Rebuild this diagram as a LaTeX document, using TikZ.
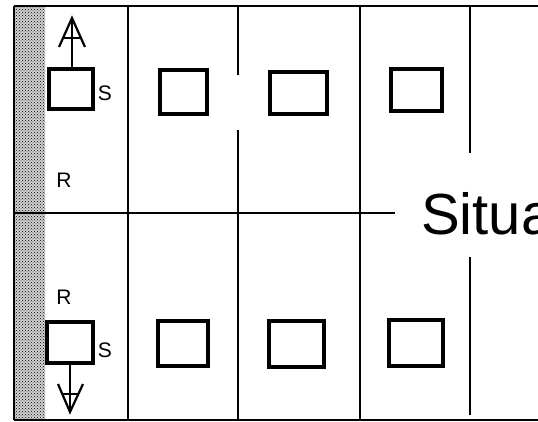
\documentclass[tikz,border=0pt]{standalone}
\usepackage{fontspec}
\setmainfont{Liberation Sans}
\usetikzlibrary{patterns}
\begin{document}
\begin{tikzpicture}[x=1pt,y=-1pt,
  gridline/.style={line width=1.8pt},
  cell/.style={draw,line width=3.6pt,inner sep=0pt,minimum width=#1},
  cell/.default=50pt,
  lbl/.style={font=\fontsize{21}{21}\selectfont,inner sep=0pt},
  head/.style={line width=2.2pt,line join=miter}]
\useasboundingbox (0,0) rectangle (538,422);
% shaded strip
\fill[black!18] (15,6) rectangle (45,420);
\fill[pattern=crosshatch dots,pattern color=black] (15,6) rectangle (45,420);
% frame / grid
\draw[gridline] (14,6) -- (538,6);
\draw[gridline] (14,420) -- (538,420);
\draw[gridline] (14,6) -- (14,420);
\draw[gridline] (14,213) -- (395,213);
\draw[gridline] (128,6) -- (128,420);
\draw[gridline] (238,6) -- (238,75);
\draw[gridline] (238,130) -- (238,420);
\draw[gridline] (360,6) -- (360,420);
\draw[gridline] (470,6) -- (470,153);
\draw[gridline] (470,257) -- (470,415);
% top row boxes
\node[cell=44pt,minimum height=40pt] (b1) at (71,89) {};
\node[cell=47pt,minimum height=44pt] (b2) at (183.5,92) {};
\node[cell=57pt,minimum height=42pt] (b3) at (298.5,93) {};
\node[cell=51pt,minimum height=42pt] (b4) at (416.5,90) {};
% bottom row boxes
\node[cell=46pt,minimum height=41pt] (c1) at (70,342.5) {};
\node[cell=50pt,minimum height=45pt] (c2) at (183,343.5) {};
\node[cell=55pt,minimum height=46pt] (c3) at (296.5,344) {};
\node[cell=54pt,minimum height=46pt] (c4) at (416,343) {};
% labels
\node[lbl] (s1) at (105,93) {S};
\node[lbl] (s2) at (105,350) {S};
\node[lbl] (r1) at (64,180) {R};
\node[lbl] (r2) at (64,297) {R};
\node[anchor=base west,inner sep=0pt,font=\fontsize{58}{58}\selectfont] (sit) at (421,235) {Situa};
% arrows
\coordinate (ta) at (72,18);
\coordinate (ba) at (70,412);
\draw[line width=2.2pt] (b1.north -| ta) -- (ta);
\draw[head] (59,47) -- (ta) -- (85,47);
\draw[head] (63,38) -- (81,38);
\draw[line width=2.2pt] (c1.south -| ba) -- (ba);
\draw[head] (58,384) -- (ba) -- (83,384);
\draw[head] (62,394) -- (79,394);
\end{tikzpicture}
\end{document}
